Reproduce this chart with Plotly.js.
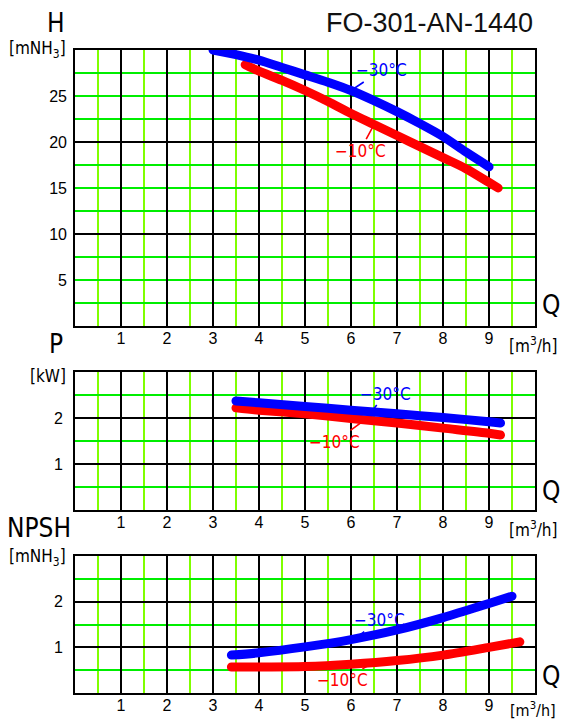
<!DOCTYPE html>
<html>
<head>
<meta charset="utf-8">
<script src="https://cdn.plot.ly/plotly-3.0.1.min.js"></script>
<style>html,body{margin:0;padding:0;background:#fff;}</style>
</head>
<body>
<div id="chart" style="width:562px;height:720px;"></div>
<script>
// ---- data ----
const qTicks = [1, 2, 3, 4, 5, 6, 7, 8, 9];
const hTicks = [5, 10, 15, 20, 25];
const pTicks = [1, 2];
const npshTicks = [1, 2];

const qH30 = [3, 3.5, 4, 4.5, 5, 5.5, 6, 6.5, 7, 7.5, 8, 8.5, 9];
const hM30 = [30, 29.5, 28.9, 28.1, 27.3, 26.5, 25.6, 24.5, 23.3, 22.0, 20.6, 18.9, 17.3];
const qH10 = [3.7, 4, 4.5, 5, 5.5, 6, 6.5, 7, 7.5, 8, 8.5, 9, 9.2];
const hM10 = [28.4, 27.7, 26.7, 25.6, 24.4, 23.1, 21.9, 20.7, 19.5, 18.3, 17.1, 15.6, 15.0];

const qP30 = [3.5, 4, 5, 6, 7, 8, 9, 9.25];
const pM30 = [2.37, 2.33, 2.25, 2.17, 2.09, 2.01, 1.92, 1.89];
const qP10 = [3.5, 4, 5, 6, 7, 8, 9, 9.25];
const pM10 = [2.22, 2.17, 2.09, 1.99, 1.89, 1.78, 1.67, 1.63];

const qN30 = [3.4, 4, 5, 6, 7, 8, 9, 9.5];
const nM30 = [0.83, 0.88, 1.01, 1.17, 1.38, 1.65, 1.96, 2.12];
const qN10 = [3.4, 4, 5, 6, 7, 8, 9, 9.67];
const nM10 = [0.57, 0.57, 0.58, 0.63, 0.71, 0.83, 1.0, 1.12];

const labelM30 = '\u221230\u00b0C';
const labelM10 = '\u221210\u00b0C';
const chartTitle = 'FO-301-AN-1440';

// ---- style ----
const W = 562, H = 720;
const px = x => x / W;
const py = y => 1 - y / H;
const BLUE = '#0000ff', RED = '#ff0000';
const VGREEN = '#7fff00', HGREEN = '#00ee00';
const NARROW = '"Liberation Sans Narrow", "DejaVu Sans Condensed", Arial, sans-serif';
const SANS = '"Liberation Sans", Arial, sans-serif';
const tickFont = {family: SANS, size: 16, color: '#000'};

function line(x, y, color, xa, ya) {
  return {x, y, xaxis: xa, yaxis: ya, type: 'scatter', mode: 'lines',
    line: {color, width: 9, shape: 'spline', smoothing: 0.8}, hoverinfo: 'skip', showlegend: false};
}

const data = [
  line(qH10, hM10, RED, 'x', 'y'),
  line(qH30, hM30, BLUE, 'x', 'y'),
  line(qP10, pM10, RED, 'x2', 'y2'),
  line(qP30, pM30, BLUE, 'x2', 'y2'),
  line(qN10, nM10, RED, 'x3', 'y3'),
  line(qN30, nM30, BLUE, 'x3', 'y3'),
  // empty trace so the labelled overlay axis of the H panel is drawn
  {x: [], y: [], xaxis: 'x', yaxis: 'y4', type: 'scatter', mode: 'lines', showlegend: false, hoverinfo: 'skip'}
];

function xAxis(anchor) {
  return {
    domain: [px(75), px(535)], range: [0, 10], anchor,
    tickmode: 'array', tickvals: qTicks, ticks: '', ticklabelstandoff: -3,
    tickfont: tickFont,
    showgrid: true, gridcolor: '#000', gridwidth: 2,
    minor: {tickmode: 'linear', tick0: 0, dtick: 0.5, showgrid: true, gridcolor: VGREEN, gridwidth: 2},
    zeroline: false, showline: true, linecolor: '#000', linewidth: 2, mirror: true,
    fixedrange: true
  };
}
function yAxis(anchor, top, bottom, range, showLabels, major, minorStep) {
  return {
    domain: [py(bottom), py(top)], range, anchor,
    tickmode: 'array', tickvals: major, ticks: '', ticklabelstandoff: 7,
    showticklabels: showLabels, tickfont: tickFont,
    showgrid: true, gridcolor: '#000', gridwidth: 2,
    minor: {tickmode: 'linear', tick0: 0, dtick: minorStep, showgrid: true, gridcolor: HGREEN, gridwidth: 2},
    zeroline: false, showline: true, linecolor: '#000', linewidth: 2, mirror: true,
    fixedrange: true
  };
}

function txt(text, x, y, size, xanchor, family, color) {
  return {text, x: px(x), y: py(y), xref: 'paper', yref: 'paper', showarrow: false,
    xanchor: xanchor || 'center', yanchor: 'middle',
    font: {family: family || NARROW, size, color: color || '#000'}};
}
function lead(text, x, y, xa, ya, ax, ay, color) {
  return {text, x, y, xref: xa, yref: ya, showarrow: true, arrowhead: 0, arrowwidth: 1.6,
    arrowcolor: color, ax, ay, standoff: 0,
    font: {family: NARROW, size: 17, color}};
}

const annotations = [
  txt(chartTitle, 535, 23, 27, 'right', SANS, '#111'),
  txt('H', 56, 23, 26, 'center', NARROW),
  txt('[mNH<sub>3</sub>]', 68, 50, 17, 'right', NARROW),
  txt('P', 56, 344, 26, 'center', NARROW),
  txt('[kW]', 68, 376, 17, 'right', NARROW),
  txt('NPSH', 5, 528, 26, 'left', NARROW),
  txt('[mNH<sub>3</sub>]', 68, 557, 17, 'right', NARROW),
  txt('Q', 551, 305, 26, 'center', NARROW),
  txt('Q', 551, 491, 26, 'center', NARROW),
  txt('Q', 551, 676, 26, 'center', NARROW),
  txt('[m<sup>3</sup>/h]', 533, 345, 17, 'center', NARROW),
  txt('[m<sup>3</sup>/h]', 533, 529, 17, 'center', NARROW),
  txt('[m<sup>3</sup>/h]', 533, 709, 16, 'center', NARROW),
  lead(labelM30, qH30[6], hM30[6], 'x', 'y', 30, -20, BLUE),
  lead(labelM10, 6.5, hM10[6], 'x', 'y', -14, 26, RED),
  lead(labelM30, 6.45, 2.14, 'x2', 'y2', 14, -18, BLUE),
  lead(labelM10, 6.3, 1.96, 'x2', 'y2', -30, 22, RED),
  lead(labelM30, 6.1, 1.2, 'x3', 'y3', 24, -18, BLUE),
  lead(labelM10, 6.5, 0.67, 'x3', 'y3', -32, 18, RED),
];

const layout = {
  width: W, height: H, margin: {l: 0, r: 0, t: 0, b: 0},
  paper_bgcolor: '#fff', plot_bgcolor: '#fff', showlegend: false,
  xaxis: xAxis('y'),
  xaxis2: xAxis('y2'),
  xaxis3: xAxis('y3'),
  yaxis: yAxis('x', 50, 326, [0, 30], false, [10, 20], 2.5),
  yaxis2: yAxis('x2', 372, 510, [0, 3], true, pTicks, 0.5),
  yaxis3: yAxis('x3', 556, 693, [0, 3], true, npshTicks, 0.5),
  yaxis4: {overlaying: 'y', anchor: 'x', side: 'left', range: [0, 30], tickmode: 'array', tickvals: hTicks,
    ticks: '', ticklabelstandoff: 7, tickfont: tickFont, showgrid: false, zeroline: false,
    showline: false, fixedrange: true},
  annotations
};

Plotly.newPlot('chart', data, layout, {staticPlot: true, displayModeBar: false}).then(() => {
  document.querySelectorAll('.scatterlayer .js-line').forEach(p => {
    p.style.strokeLinecap = 'round';
  });
});
</script>
</body>
</html>
